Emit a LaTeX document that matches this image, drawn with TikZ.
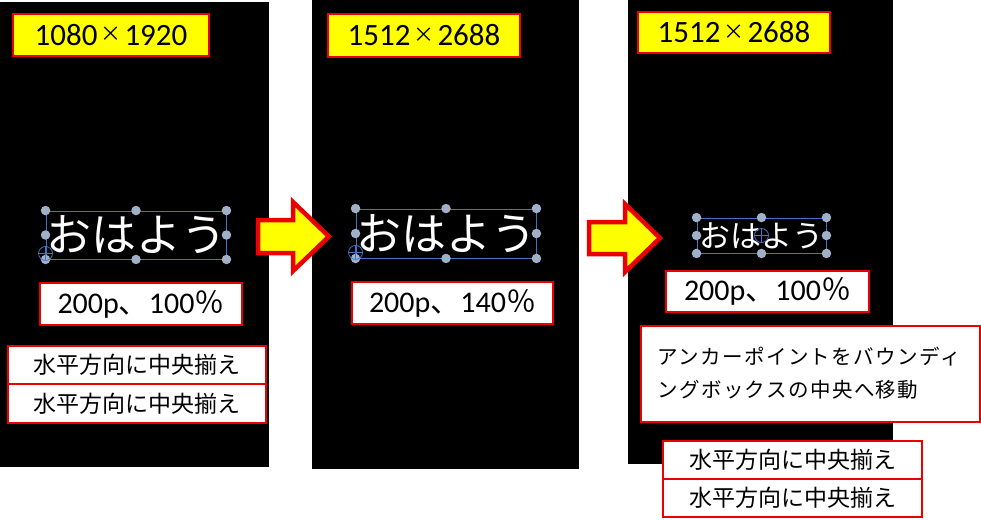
\documentclass[tikz,border=0pt]{standalone}
\usepackage{fontspec}
\usetikzlibrary{calc}
\setmainfont{Carlito}
\newfontfamily\jp{Noto Sans CJK JP}
\definecolor{bred}{RGB}{235,0,0}
\definecolor{byel}{RGB}{255,255,0}
\definecolor{selblue}{RGB}{68,114,196}
\definecolor{hgray}{RGB}{160,176,200}
\newcommand{\tms}{\kern3pt{\jp\fontsize{21}{21}\selectfont\raisebox{3.5pt}{×}}\kern3pt}
\tikzset{
  panel/.style={fill=black, draw=none},
  ybox/.style={draw=bred, fill=byel, line width=2.6pt, inner sep=0pt, font=\fontsize{31}{32}\selectfont},
  wbox/.style={draw=bred, fill=white, line width=2.6pt, inner sep=0pt, font=\fontsize{30}{32}\selectfont},
  jbox/.style={draw=bred, fill=white, line width=2.6pt, inner sep=0pt, font=\jp\fontsize{23}{26}\selectfont},
  selbox/.style={draw=selblue, line width=0.9pt, inner sep=0pt, text=white},
  handle/.style={circle, fill=hgray, draw=none, inner sep=0pt, minimum size=9.5pt},
  cross/.style={draw=selblue, line width=0.8pt},
  bigarrow/.style={draw=bred, fill=byel, line width=4.5pt, line join=miter}
}
\begin{document}
\begin{tikzpicture}[x=1pt,y=-1pt]
\useasboundingbox[fill=white] (0,0) rectangle (981,519);
% panels
\fill[panel] (0,2) rectangle (269,467);
\fill[panel] (312,0) rectangle (579,469);
\fill[panel] (628,0) rectangle (893,464);
% size labels
\node[ybox, minimum width=196pt, minimum height=42pt] (y1) at (111,35) {1080\tms 1920};
\node[ybox, minimum width=192pt, minimum height=43pt] (y2) at (424,35.5) {1512\tms 2688};
\node[ybox, minimum width=192pt, minimum height=41pt] (y3) at (734,32.5) {1512\tms 2688};
% selection boxes with text
\node[selbox, minimum width=180pt, minimum height=48pt, font=\jp\fontsize{45}{45}\selectfont] (s1) at (136,235) {おはよう};
\node[selbox, minimum width=180pt, minimum height=49pt, font=\jp\fontsize{45}{45}\selectfont] (s2) at (446,233.5) {おはよう};
\node[selbox, minimum width=129pt, minimum height=35pt, font=\jp\fontsize{31}{31}\selectfont] (s3) at (761.5,235.5) {おはよう};
\foreach \s in {s1,s2,s3}{
  \foreach \a in {north west,north,north east,east,south east,south,south west,west}{
    \node[handle] at (\s.\a) {};
  }
}
% rotation / anchor crosshairs
\coordinate (c1) at ($(s1.south west)+(0,-6)$);
\coordinate (c2) at ($(s2.south west)+(0,-6)$);
\coordinate (c3) at (s3.center);
\foreach \c in {c1,c2,c3}{
  \draw[cross] (\c) circle (7);
  \draw[cross] ($(\c)+(-7,0)$) -- ($(\c)+(7,0)$);
  \draw[cross] ($(\c)+(0,-7)$) -- ($(\c)+(0,7)$);
}
% percentages
\node[wbox, minimum width=202pt, minimum height=42pt] (p1) at (141,304) {200p{\jp 、}100{\jp ％}};
\node[wbox, minimum width=201pt, minimum height=42pt] (p2) at (452.5,303) {200p{\jp 、}140{\jp ％}};
\node[wbox, minimum width=203pt, minimum height=41pt] (p3) at (767.5,291.5) {200p{\jp 、}100{\jp ％}};
% alignment boxes
\node[jbox, minimum width=258pt, minimum height=38pt] (a1) at (137,365) {水平方向に中央揃え};
\node[jbox, minimum width=258pt, minimum height=39pt] (a2) at (137,403.5) {水平方向に中央揃え};
\node[jbox, minimum width=259pt, minimum height=38pt] (a3) at (792.5,460) {水平方向に中央揃え};
\node[jbox, minimum width=259pt, minimum height=38pt] (a4) at (792.5,498) {水平方向に中央揃え};
% anchor note
\node[draw=bred, fill=white, line width=2.6pt, minimum width=339pt, minimum height=96pt, inner sep=0pt] (n1) at (810.5,374) {};
\node[anchor=west, align=left, inner sep=0pt, font=\jp\fontsize{20.5}{33}\selectfont\addfontfeature{LetterSpace=7}] (n1t) at (657,373.5) {アンカーポイントをバウンディ\\ングボックスの中央へ移動};
% arrows
\draw[bigarrow] (258,220) -- (293,220) -- (293,202) -- (329,236.5) -- (293,271) -- (293,253) -- (258,253) -- cycle;
\draw[bigarrow] (589,222) -- (625,222) -- (625,204) -- (660,238) -- (625,272) -- (625,254) -- (589,254) -- cycle;
\end{tikzpicture}
\end{document}
